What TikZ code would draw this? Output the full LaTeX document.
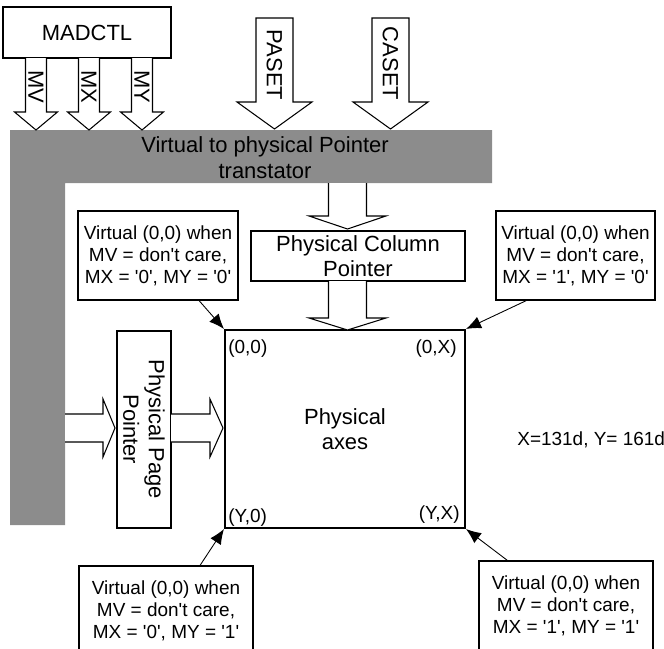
\documentclass[tikz,border=0pt]{standalone}
\usepackage{fontspec}
\setmainfont[Ligatures=TeXOff]{Liberation Sans}
\usetikzlibrary{positioning, arrows.meta, calc}
\usepackage{xcolor}

\newcommand{\bigtext}{\fontsize{12.5}{14.5}\selectfont}
\newcommand{\smalltext}{\fontsize{10.8}{12.5}\selectfont}

% block arrows, in picture units: centre, start, head start, tip, shaft half, head half, end of path
\newcommand{\blockdown}[7]{%
  \filldraw[blockarrow] (#1-#5,#2) -- (#1-#5,#3) -- (#1-#6,#3) -- (#1,#4)
    -- (#1+#6,#3) -- (#1+#5,#3) -- (#1+#5,#2) #7;}
\newcommand{\blockright}[7]{%
  \filldraw[blockarrow] (#2,#1-#5) -- (#3,#1-#5) -- (#3,#1-#6) -- (#4,#1)
    -- (#3,#1+#6) -- (#3,#1+#5) -- (#2,#1+#5) #7;}

\begin{document}
\begin{tikzpicture}[
    x=0.02cm, y=-0.02cm,
    box/.style={draw=black, line width=0.6pt, fill=white, align=center, inner sep=0pt, font=\bigtext},
    callout/.style={draw=black, line width=0.6pt, fill=white, align=center, inner sep=0pt, minimum width=3.2cm, minimum height=1.78cm, font=\smalltext},
    corner/.style={inner sep=0pt, font=\smalltext},
    vlabel/.style={rotate=-90, inner sep=0pt, font=\bigtext},
    blockarrow/.style={draw=black, line width=0.6pt, fill=white, line join=miter},
    pointer/.style={draw=black, line width=0.5pt, -{Latex[length=0.3cm, width=0.25cm]}}
]
\useasboundingbox (0,0) rectangle (664,649);
\clip (0,0) rectangle (664,649);

% Translator
\fill[black!45] (10,130) -- (492,130) -- (492,183) -- (65,183) -- (65,525) -- (10,525) -- cycle;
\node[font=\bigtext, align=center, inner sep=0pt] (xlate) at (265,157.5) {Virtual to physical Pointer\\transtator};

% Nodes
\node[box, minimum width=3.36cm, minimum height=1.02cm] (madctl) at (87,32.5) {MADCTL};
\node[box, minimum width=4.28cm, minimum height=1cm] (colptr) at (358,256) {Physical Column\\Pointer};
\node[box, rotate=-90, minimum width=3.94cm, minimum height=1.08cm] (pageptr) at (144,429.5) {Physical Page\\Pointer};
\node[box, line width=1.2pt, minimum width=4.8cm, minimum height=3.96cm] (axes) at (345,429) {Physical\\axes};

\node[corner, anchor=west] (c00) at (228,348.5) {(0,0)};
\node[corner, anchor=east] (c0x) at (457,348.5) {(0,X)};
\node[corner, anchor=west] (cy0) at (228,518) {(Y,0)};
\node[corner, anchor=east] (cyx) at (460,514.5) {(Y,X)};
\node[corner, anchor=west] (dims) at (517,440) {X=131d, Y= 161d};

\node[callout] (cnw) at (158,255.5) {Virtual (0,0) when\\MV = don't care,\\MX = '0', MY = '0'};
\node[callout, minimum width=3.18cm] (cne) at (575.5,255.5) {Virtual (0,0) when\\MV = don't care,\\MX = '1', MY = '0'};
\node[callout, minimum width=3.48cm] (csw) at (166,610.5) {Virtual (0,0) when\\MV = don't care,\\MX = '0', MY = '1'};
\node[callout, minimum width=3.48cm] (cse) at (566,605.5) {Virtual (0,0) when\\MV = don't care,\\MX = '1', MY = '1'};

% Block arrows
\blockdown{36}{58}{112}{130}{10.5}{21.5}{}
\blockdown{89}{58}{112}{130}{10.5}{21.5}{}
\blockdown{142}{58}{112}{130}{10.5}{21.5}{}
\blockdown{274.5}{18}{102}{129}{18.5}{37.5}{-- cycle}
\blockdown{390.5}{18}{102}{129}{18.5}{37.5}{-- cycle}
\blockdown{347.5}{183}{216}{229}{19}{38.5}{}
\blockdown{347.5}{281}{318}{330}{19}{38.5}{}
\blockright{428}{65}{103}{115}{14}{29}{}
\blockright{428}{171}{210}{223}{14}{29}{}

\node[vlabel] (mv) at (36,86.5) {MV};
\node[vlabel] (mx) at (89,86.5) {MX};
\node[vlabel] (my) at (142,86.5) {MY};
\node[vlabel] (paset) at (274.5,65) {PASET};
\node[vlabel] (caset) at (390.5,63.5) {CASET};

% Edges
\draw[pointer] ([xshift=0.82cm]cnw.south) -- (axes.north west);
\draw[pointer] ([xshift=0.62cm]cne.south west) -- (axes.north east);
\draw[pointer] ([xshift=0.68cm]csw.north) -- (axes.south west);
\draw[pointer] ([xshift=0.58cm]cse.north west) -- (axes.south east);

\end{tikzpicture}
\end{document}
